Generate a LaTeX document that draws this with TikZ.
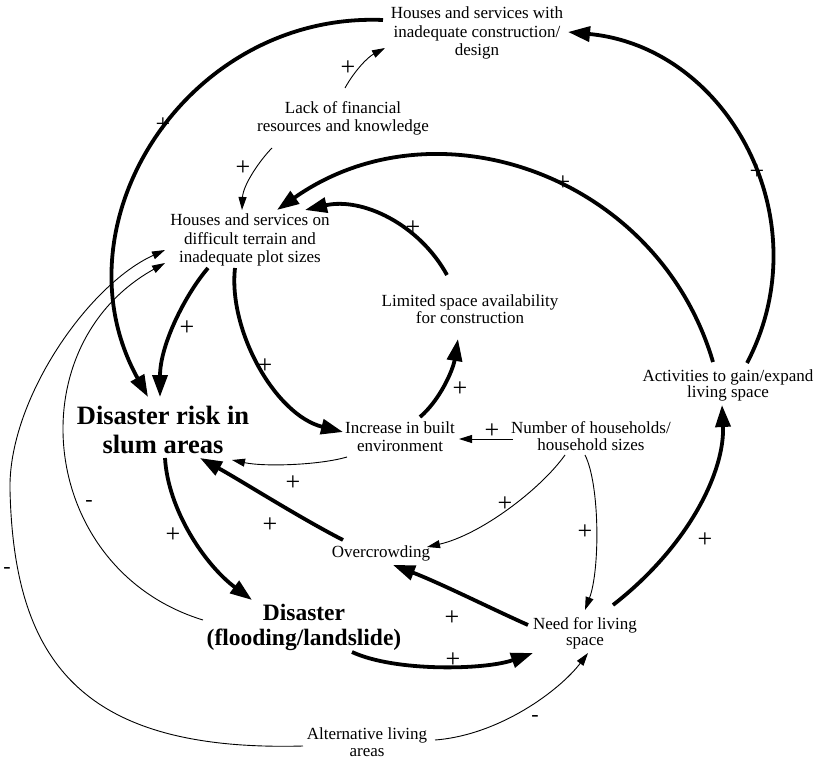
\documentclass[tikz,border=0pt]{standalone}
\usepackage{fontspec}
\setmainfont{Liberation Serif}
\usetikzlibrary{arrows.meta}
\begin{document}
\begin{tikzpicture}[x=1pt,y=-1pt,
  txt/.style={font=\fontsize{17}{17.5}\selectfont, align=center, inner sep=0pt},
  txtwide/.style={font=\fontsize{17}{18.5}\selectfont, align=center, inner sep=0pt},
  txtnarrow/.style={font=\fontsize{17}{16}\selectfont, align=center, inner sep=0pt},
  bigtxt/.style={font=\bfseries\fontsize{26.5}{29}\selectfont, align=center, inner sep=0pt},
  distxt/.style={font=\bfseries\fontsize{23.5}{25.5}\selectfont, align=center, inner sep=0pt},
  strong/.style={line width=3.8pt, -{Triangle[length=22pt,width=15pt]}},
  weak/.style={line width=0.9pt, -{Triangle[length=13pt,width=8pt]}},
  sign/.style={font=\fontsize{26}{26}\selectfont, inner sep=0pt},
  neg/.style={font=\fontsize{22}{22}\selectfont, inner sep=0pt}
]
\useasboundingbox (0,0) rectangle (816,759);

% nodes
\node[txtwide] (HW) at (477,33) {Houses and services with\\inadequate construction/\\design};
\node[txt] (LF) at (343,118.5) {Lack of financial\\resources and knowledge};
\node[txtwide] (HD) at (250,240) {Houses and services on\\difficult terrain and\\inadequate plot sizes};
\node[txt] (LS) at (470,309) {Limited space availability\\for construction};
\node[bigtxt] (DR) at (163,429.5) {Disaster risk in\\slum areas};
\node[txt] (IB) at (400,436.5) {Increase in built\\environment};
\node[txt] (NH) at (591,436) {Number of households/\\household sizes};
\node[txtnarrow] (AG) at (728,385) {Activities to gain/expand\\living space};
\node[txt] (OC) at (381,553) {Overcrowding};
\node[distxt] (DI) at (304,627.5) {Disaster\\(flooding/landslide)};
\node[txtnarrow] (NL) at (585,633) {Need for living\\space};
\node[txt] (AL) at (367,742) {Alternative living\\areas};

% thick connectors
\draw[strong] ([shift={(-94,-13)}]HW.center) .. controls (187,12) and (52,224) .. ([shift={(-15,-32.5)}]DR.center);
\draw[strong] ([shift={(19,-22)}]AG.center) .. controls (822,220) and (728,47) .. ([shift={(91,-1)}]HW.center);
\draw[strong] ([shift={(-15,-23)}]AG.center) .. controls (658,175) and (436,98) .. ([shift={(27,-30)}]HD.center);
\draw[strong] ([shift={(-23,-34)}]LS.center) .. controls (419,224) and (362,197) .. ([shift={(55,-30)}]HD.center);
\draw[strong] ([shift={(-42,28)}]HD.center) .. controls (185,295) and (160,345) .. ([shift={(-3,-32.5)}]DR.center);
\draw[strong] ([shift={(-15,28)}]HD.center) .. controls (228,330) and (275,415) .. ([shift={(-57,-4.5)}]IB.center);
\draw[strong] ([shift={(20,-19.5)}]IB.center) .. controls (440,400) and (453,370) .. ([shift={(-12,30)}]LS.center);
\draw[strong] ([shift={(-38,-13)}]OC.center) .. controls (300,518) and (240,480) .. ([shift={(37,28.5)}]DR.center);
\draw[strong] ([shift={(28,-28)}]NL.center) .. controls (690,545) and (725,470) .. ([shift={(-6,20)}]AG.center);
\draw[strong] ([shift={(-57,-8)}]NL.center) .. controls (490,608) and (440,583) .. ([shift={(12,12)}]OC.center);
\draw[strong] ([shift={(2,28.5)}]DR.center) .. controls (168,510) and (205,565) .. ([shift={(-52,-27.5)}]DI.center);
\draw[strong] ([shift={(48,24.5)}]DI.center) .. controls (395,672) and (485,670) .. ([shift={(-52,20)}]NL.center);

% thin connectors
\draw[weak] ([shift={(2,-30.5)}]LF.center) .. controls (355,70) and (368,57) .. ([shift={(-92,15)}]HW.center);
\draw[weak] ([shift={(-71,29.5)}]LF.center) .. controls (260,160) and (243,185) .. ([shift={(-8,-30)}]HD.center);
\draw[weak] ([shift={(-53,20.5)}]IB.center) .. controls (320,465) and (265,467) .. ([shift={(69,30.5)}]DR.center);
\draw[weak] ([shift={(-78,3)}]NH.center) -- ([shift={(59,2.5)}]IB.center);
\draw[weak] ([shift={(-26,19)}]NH.center) .. controls (540,490) and (480,535) .. ([shift={(46,-6)}]OC.center);
\draw[weak] ([shift={(-6,19)}]NH.center) .. controls (600,485) and (600,570) .. ([shift={(0,-23)}]NL.center);
\draw[weak] ([shift={(-101,-7.5)}]DI.center) .. controls (38.6,569.7) and (14.8,346.8) .. ([shift={(-85,23)}]HD.center);
\draw[weak] ([shift={(-64,4)}]AL.center) .. controls (80,752) and (14,660) .. (10,490) .. controls (8,400) and (88,285) .. ([shift={(-85,10)}]HD.center);
\draw[weak] ([shift={(68,-2)}]AL.center) .. controls (500,735) and (560,690) .. ([shift={(3,20)}]NL.center);

% polarity signs
\node[sign] (s1) at (163,125) {+};
\node[sign] (s2) at (348,68) {+};
\node[sign] (s3) at (243,168) {+};
\node[sign] (s4) at (563,183) {+};
\node[sign] (s5) at (413,228) {+};
\node[sign] (s6) at (757,172) {+};
\node[sign] (s7) at (187,328) {+};
\node[sign] (s8) at (265,366) {+};
\node[sign] (s9) at (460,389) {+};
\node[sign] (s10) at (492,431) {+};
\node[sign] (s11) at (293,483) {+};
\node[sign] (s12) at (270,525) {+};
\node[sign] (s13) at (505,504) {+};
\node[sign] (s14) at (585,532) {+};
\node[sign] (s15) at (705,540) {+};
\node[sign] (s16) at (173,535) {+};
\node[sign] (s17) at (452,618) {+};
\node[sign] (s18) at (453,660) {+};
\node[neg] (m1) at (89,503) {-};
\node[neg] (m2) at (7,570) {-};
\node[neg] (m3) at (535,718) {-};
\end{tikzpicture}
\end{document}
